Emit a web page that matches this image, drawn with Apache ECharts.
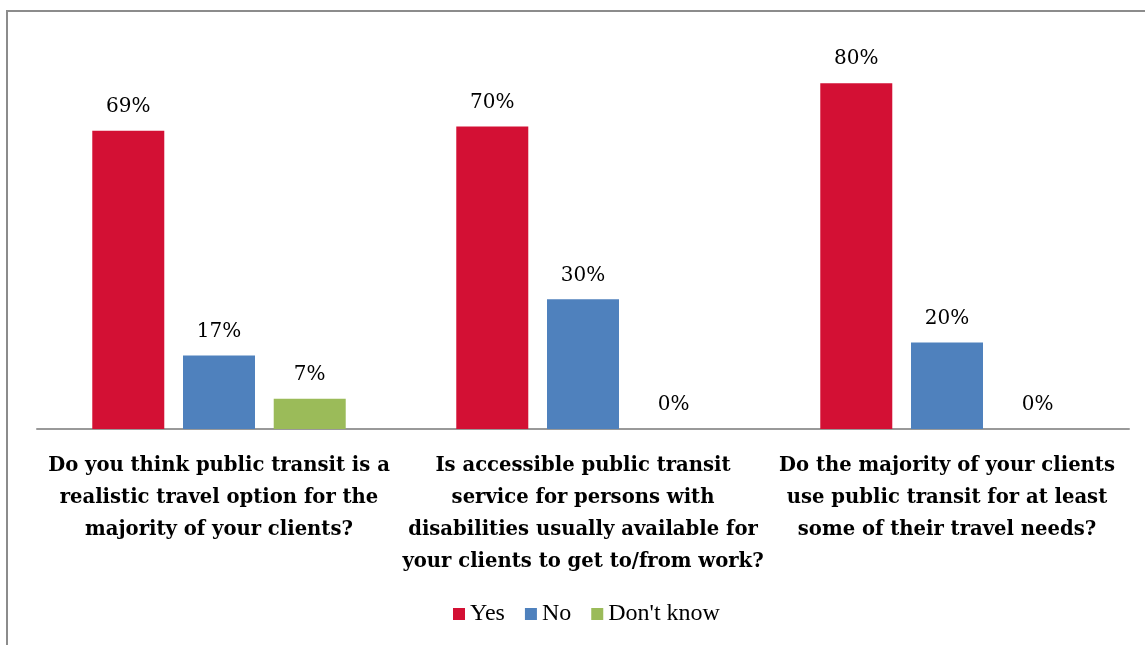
<!DOCTYPE html>
<html>
<head>
<meta charset="utf-8">
<script src="https://cdn.jsdelivr.net/npm/echarts@6/dist/echarts.min.js"></script>
<style>html,body{margin:0;padding:0;background:#fff}#c{width:1145px;height:645px}</style>
</head>
<body>
<div id="c"></div>
<script>
const categories = [
  "Do you think public transit is a\nrealistic travel option for the\nmajority of your clients?",
  "Is accessible public transit\nservice for persons with\ndisabilities usually available for\nyour clients to get to/from work?",
  "Do the majority of your clients\nuse public transit for at least\nsome of their travel needs?"
];
const seriesNames = ["Yes", "No", "Don't know"];
const yesValues = [69, 70, 80];
const noValues = [17, 30, 20];
const dontKnowValues = [7, 0, 0];
const colors = ["#D31034", "#4F81BD", "#9BBB59"];

const chart = echarts.init(document.getElementById('c'));
const labelStyle = {
  show: true, position: 'top', distance: 14,
  formatter: p => p.value + '%',
  fontFamily: 'DejaVu Serif', fontSize: 20, color: '#000'
};
const mk = (name, data, i) => ({
  name, type: 'bar', data, barWidth: 72, barGap: '26%',
  itemStyle: { color: colors[i] }, label: labelStyle
});
chart.setOption({
  animation: false,
  color: colors,
  graphic: [{
    type: 'rect', shape: { x: 7, y: 11, width: 1300, height: 800 },
    style: { fill: 'none', stroke: '#8c8c8c', lineWidth: 2 }, silent: true
  }],
  grid: { left: 37, right: 16, top: 40, bottom: 216 },
  legend: {
    bottom: 14, left: 448, itemWidth: 12, itemHeight: 12, itemGap: 20,
    icon: 'rect',
    textStyle: { fontFamily: 'Liberation Serif', fontSize: 24, color: '#000' },
    data: seriesNames
  },
  xAxis: {
    type: 'category', data: categories,
    axisLine: { lineStyle: { color: '#999', width: 2 } },
    axisTick: { show: false },
    axisLabel: {
      interval: 0, margin: 21, lineHeight: 32,
      fontFamily: 'DejaVu Serif', fontWeight: 'bold', fontSize: 19.6, color: '#000'
    }
  },
  yAxis: { type: 'value', min: 0, max: 90, show: false, splitLine: { show: false } },
  series: [mk(seriesNames[0], yesValues, 0), mk(seriesNames[1], noValues, 1), mk(seriesNames[2], dontKnowValues, 2)]
});
</script>
</body>
</html>
